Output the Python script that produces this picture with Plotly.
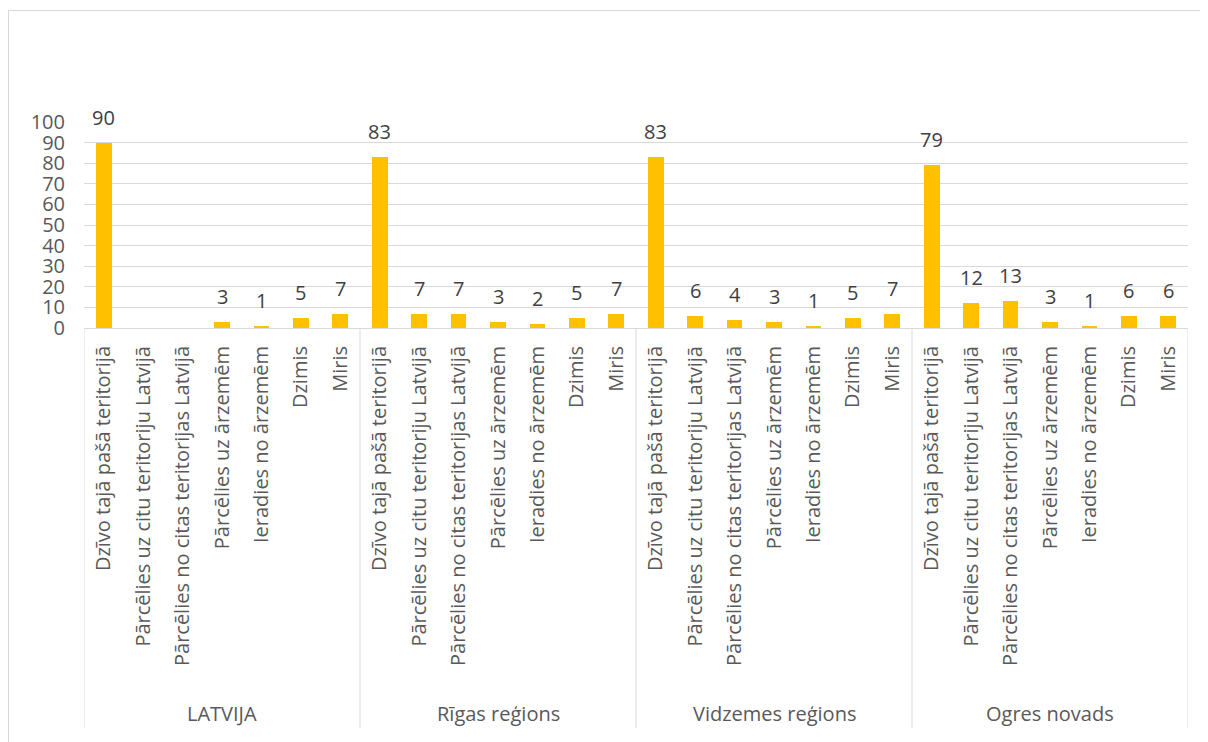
import plotly.graph_objects as go

groups = ["LATVIJA", "Rīgas reģions", "Vidzemes reģions", "Ogres novads"]
categories = [
    "Dzīvo tajā pašā teritorijā",
    "Pārcēlies uz citu teritoriju Latvijā",
    "Pārcēlies no citas teritorijas Latvijā",
    "Pārcēlies uz ārzemēm",
    "Ieradies no ārzemēm",
    "Dzimis",
    "Miris",
]
latvija = [90, None, None, 3, 1, 5, 7]
rigas = [83, 7, 7, 3, 2, 5, 7]
vidzemes = [83, 6, 4, 3, 1, 5, 7]
ogres = [79, 12, 13, 3, 1, 6, 6]
y_ticks = [0, 10, 20, 30, 40, 50, 60, 70, 80, 90, 100]

series = [latvija, rigas, vidzemes, ogres]
values = [v for s in series for v in s]
n = len(categories)
xpos = list(range(len(values)))
ticktext = categories * len(groups)

FONT = "Open Sans"
FS = 20
BAR = "#FFC000"
GRID = "#D9D9D9"
TXT = "#595959"

# page offset (browser body margin)
OFF = 8
W, H = 1208 - OFF, 742 - OFF
# plot area in page pixels: left 84, right 1188, top 122, bottom 328
L = 84 - OFF
T = 122 - OFF
R = W - (1188 - OFF)
B = H - (328 - OFF)
ph = H - T - B
pw = W - L - R

def py(page_y):
    return (328 - page_y) / ph

def px(page_x):
    return (page_x - 84) / pw

fig = go.Figure()
fig.add_trace(go.Bar(
    x=xpos, y=[v if v is not None else 0 for v in values],
    width=0.4, marker=dict(color=BAR, line=dict(width=0)),
    hoverinfo="skip",
))

# data labels
for x, v in zip(xpos, values):
    if v is None:
        continue
    fig.add_annotation(x=x, y=v, text=str(v), showarrow=False,
                       xref="x", yref="y", yanchor="bottom", yshift=10,
                       font=dict(family=FONT, size=FS, color="#404040"))

# group dividers
for g in range(len(groups) + 1):
    fig.add_shape(type="line", xref="x", yref="paper",
                  x0=g * n - 0.5, x1=g * n - 0.5, y0=0, y1=py(728),
                  line=dict(color=GRID, width=1))
# group labels
for g, name in enumerate(groups):
    fig.add_annotation(x=g * n + (n - 1) / 2, y=py(713), xref="x", yref="paper",
                       text=name, showarrow=False, yanchor="middle",
                       font=dict(family=FONT, size=FS, color=TXT))

# outer chart border
fig.add_shape(type="rect", xref="paper", yref="paper",
              x0=px(8.5), x1=px(1230),
              y0=py(770), y1=py(10.5),
              line=dict(color=GRID, width=1), layer="below")

fig.update_layout(
    width=W, height=H,
    margin=dict(l=L, r=R, t=T, b=B, pad=0),
    paper_bgcolor="white", plot_bgcolor="white",
    showlegend=False, bargap=0,
    font=dict(family=FONT, color=TXT),
    xaxis=dict(
        range=[-0.5, len(values) - 0.5],
        tickmode="array", tickvals=xpos, ticktext=ticktext,
        tickangle=-90, ticks="", ticklabelstandoff=9,
        tickfont=dict(family=FONT, size=FS, color=TXT),
        showgrid=False, zeroline=False,
        showline=True, linecolor=GRID, linewidth=1,
    ),
    yaxis=dict(
        range=[0, 100], tickmode="array", tickvals=y_ticks,
        ticks="", ticklabelstandoff=18,
        tickfont=dict(family=FONT, size=FS, color=TXT),
        showgrid=True, gridcolor=GRID, gridwidth=1,
        zeroline=False, showline=False,
    ),
)

fig.write_html("out.html")
